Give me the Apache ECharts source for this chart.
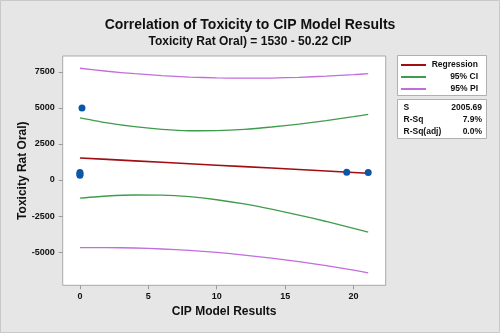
<!DOCTYPE html>
<html>
<head>
<meta charset="utf-8">
<script src="https://cdn.jsdelivr.net/npm/echarts@6/dist/echarts.min.js"></script>
<style>html,body{margin:0;padding:0;background:#e6e6e6;}#c{width:500px;height:333px;}</style>
</head>
<body>
<div id="c"></div>
<script>
// Observed data
const cip = [0, 0, 0, 0.15, 19.5, 21.07];
const tox = [330, 420, 520, 5000, 535, 525];
// Fitted curves
const fitX = [0, 2, 4, 6, 8, 10, 12, 14, 16, 18, 20, 21.07];
const regY = [1530, 1430, 1330, 1230, 1130, 1030, 930, 830, 730, 625, 525, 470];
const ciUpper = [4320, 3970, 3700, 3510, 3420, 3430, 3520, 3680, 3880, 4130, 4400, 4560];
const ciLower = [-1260, -1110, -1040, -1050, -1160, -1370, -1660, -2020, -2430, -2880, -3350, -3620];
const piUpper = [7760, 7550, 7380, 7250, 7150, 7090, 7070, 7080, 7130, 7210, 7310, 7380];
const piLower = [-4700, -4690, -4720, -4790, -4890, -5030, -5210, -5430, -5670, -5950, -6260, -6440];
// Ticks
const xTicks = [0, 5, 10, 15, 20];
const yTicks = [-5000, -2500, 0, 2500, 5000, 7500];
// Texts
const titleText = 'Correlation of Toxicity to CIP Model Results';
const subTitleText = 'Toxicity Rat Oral) = 1530 - 50.22 CIP';
const xName = 'CIP Model Results';
const yName = 'Toxicity Rat Oral)';
const legendNames = ['Regression', '95% CI', '95% PI'];
const statLabels = ['S', 'R-Sq', 'R-Sq(adj)'];
const statValues = ['2005.69', '7.9%', '0.0%'];

const FONT = 'Liberation Sans, Arial, sans-serif';
const C_REG = '#a00d12', C_CI = '#3f9c4c', C_PI = '#c26ddc', C_PT = '#0b57a6';

const pair = (xs, ys) => xs.map((x, i) => [x, ys[i]]);

const chart = echarts.init(document.getElementById('c'), null, {renderer: 'canvas'});

const statGraphics = [];
statLabels.forEach((s, i) => {
  const y = 107.5 + i * 11.9;
  statGraphics.push({type: 'text', style: {text: s, font: 'bold 8.5px ' + FONT, fill: '#111', x: 403.5, y: y, align: 'left', verticalAlign: 'middle'}, z: 10});
  statGraphics.push({type: 'text', style: {text: statValues[i], font: 'bold 8.5px ' + FONT, fill: '#111', x: 482, y: y, align: 'right', verticalAlign: 'middle'}, z: 10});
});

chart.setOption({
  backgroundColor: '#e6e6e6',
  animation: false,
  title: [
    {text: titleText, left: 'center', top: 11, textStyle: {fontFamily: FONT, fontSize: 14, fontWeight: 'bold', color: '#111', lineHeight: 18}},
    {text: subTitleText, left: 'center', top: 30, textStyle: {fontFamily: FONT, fontSize: 12, fontWeight: 'bold', color: '#111', lineHeight: 14}}
  ],
  grid: {left: 62.7, top: 56, right: 114.3, bottom: 47.7, show: true, backgroundColor: '#ffffff', borderColor: '#a9a9a9', borderWidth: 1, containLabel: false, outerBoundsMode: 'none'},
  legend: {
    data: legendNames.map(n => ({name: n})),
    orient: 'vertical', left: 401, top: 59.5, padding: 0,
    itemWidth: 25, itemHeight: 2, itemGap: 1, icon: 'rect',
    formatter: n => '{r|' + n + '}',
    textStyle: {fontFamily: FONT, fontSize: 8.5, fontWeight: 'bold', color: '#111', lineHeight: 11,
      rich: {r: {width: 47, align: 'right', fontFamily: FONT, fontSize: 8.5, fontWeight: 'bold', color: '#111', lineHeight: 11}}},
    selectedMode: false
  },
  xAxis: {
    type: 'value', min: -1.26, max: 22.35,
    name: xName, nameLocation: 'middle', nameGap: 20, nameMoveOverlap: false,
    nameTextStyle: {fontFamily: FONT, fontSize: 12, fontWeight: 'bold', color: '#111'},
    axisLine: {show: false, onZero: false}, splitLine: {show: false},
    axisTick: {show: true, length: 4, customValues: xTicks, lineStyle: {color: '#9a9a9a'}},
    axisLabel: {customValues: xTicks, margin: 7, fontFamily: FONT, fontSize: 9, fontWeight: 'bold', color: '#111', formatter: v => String(v)}
  },
  yAxis: {
    type: 'value', min: -7310, max: 8610,
    name: yName, nameLocation: 'middle', nameGap: 34, nameMoveOverlap: false,
    nameTextStyle: {fontFamily: FONT, fontSize: 12, fontWeight: 'bold', color: '#111'},
    axisLine: {show: false, onZero: false}, splitLine: {show: false},
    axisTick: {show: true, length: 4, customValues: yTicks, lineStyle: {color: '#9a9a9a'}},
    axisLabel: {customValues: yTicks, margin: 8, fontFamily: FONT, fontSize: 9, fontWeight: 'bold', color: '#111', formatter: v => String(v)}
  },
  series: [
    {name: '95% PI', type: 'line', data: pair(fitX, piUpper), smooth: 0.2, symbol: 'none', lineStyle: {color: C_PI, width: 1.3}, itemStyle: {color: C_PI}},
    {name: '95% PI', type: 'line', data: pair(fitX, piLower), smooth: 0.2, symbol: 'none', lineStyle: {color: C_PI, width: 1.3}, itemStyle: {color: C_PI}},
    {name: '95% CI', type: 'line', data: pair(fitX, ciUpper), smooth: 0.2, symbol: 'none', lineStyle: {color: C_CI, width: 1.3}, itemStyle: {color: C_CI}},
    {name: '95% CI', type: 'line', data: pair(fitX, ciLower), smooth: 0.2, symbol: 'none', lineStyle: {color: C_CI, width: 1.3}, itemStyle: {color: C_CI}},
    {name: 'Regression', type: 'line', data: pair(fitX, regY), symbol: 'none', lineStyle: {color: C_REG, width: 1.6}, itemStyle: {color: C_REG}},
    {name: 'Data', type: 'scatter', data: pair(cip, tox), symbol: 'circle', symbolSize: 7, itemStyle: {color: C_PT, opacity: 1}, z: 5}
  ],
  graphic: [
    {type: 'rect', shape: {x: 0.5, y: 0.5, width: 499, height: 332}, style: {fill: 'none', stroke: '#c9c9c9', lineWidth: 1}, z: -1},
    {type: 'rect', shape: {x: 397.5, y: 55.5, width: 89, height: 40}, style: {fill: '#ffffff', stroke: '#b0b0b0', lineWidth: 1}, z: -1},
    {type: 'rect', shape: {x: 397.5, y: 99.5, width: 89, height: 39}, style: {fill: '#ffffff', stroke: '#b0b0b0', lineWidth: 1}, z: -1}
  ].concat(statGraphics)
});
</script>
</body>
</html>
